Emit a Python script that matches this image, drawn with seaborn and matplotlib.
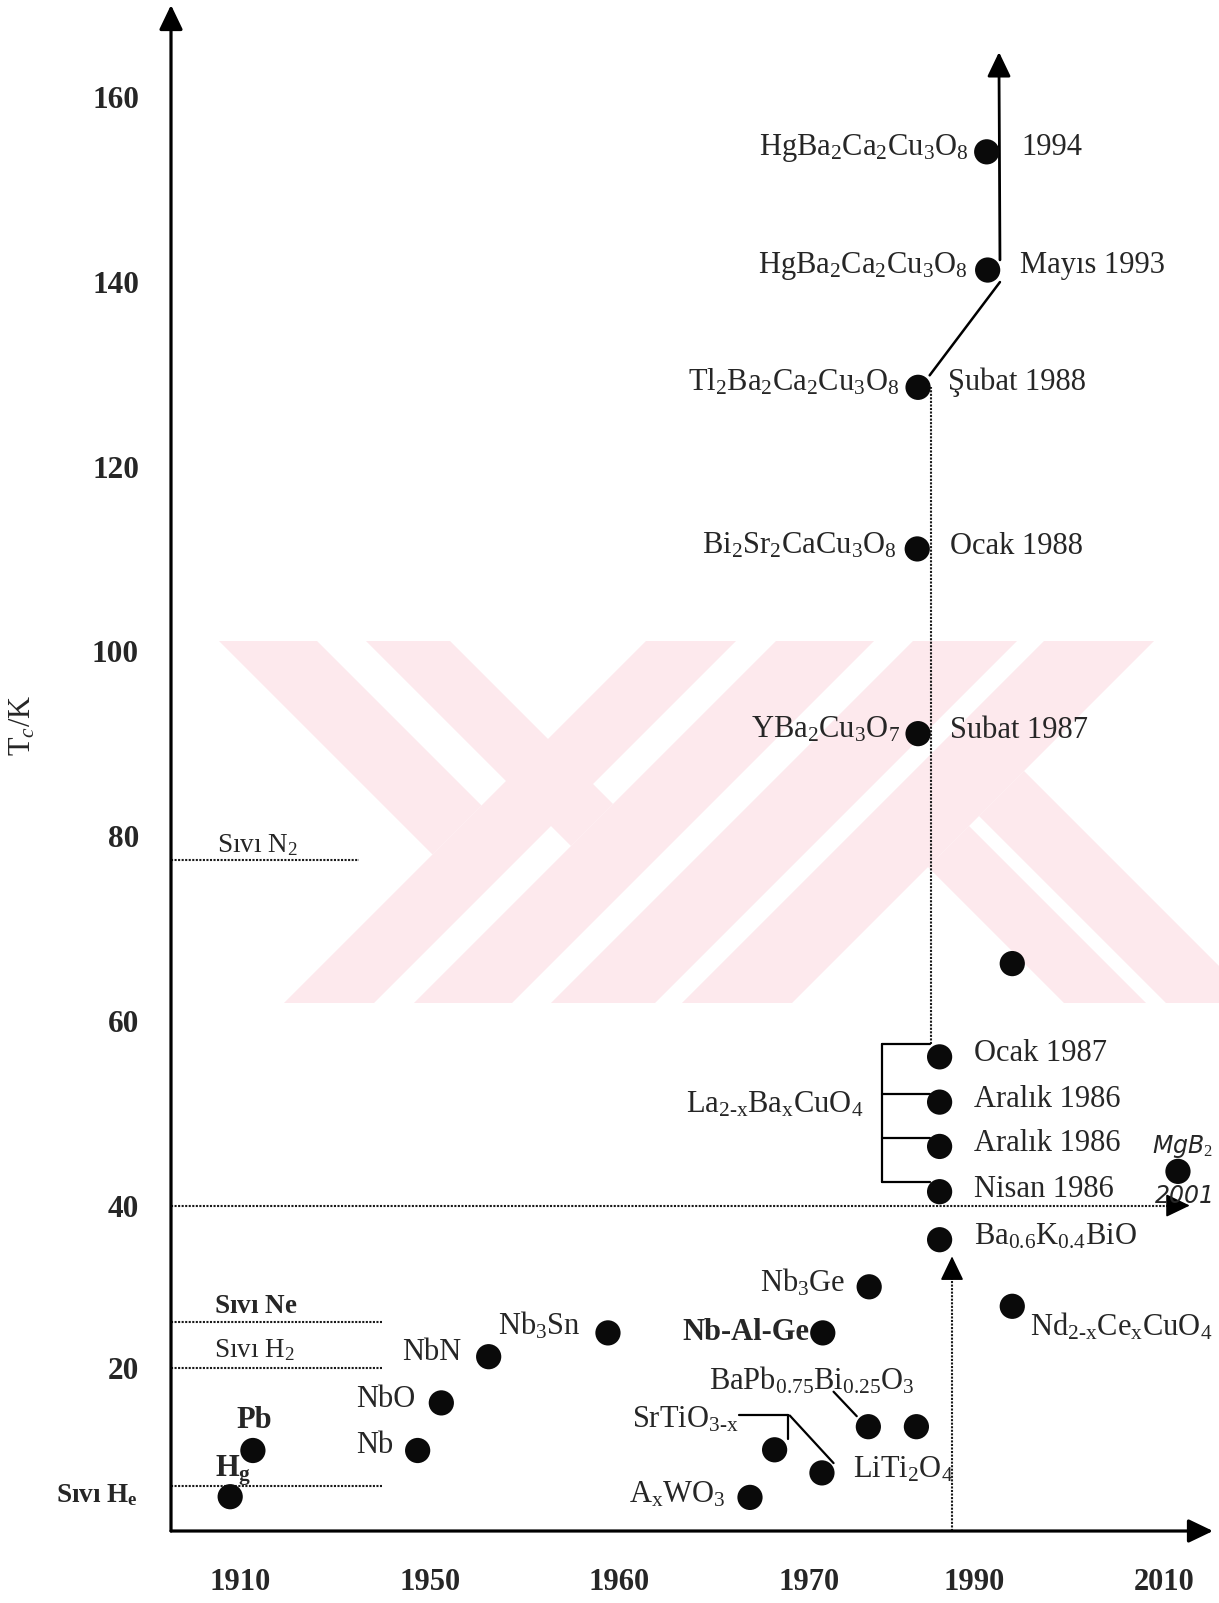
import numpy as np
import pandas as pd
import matplotlib
matplotlib.use("Agg")
import matplotlib.pyplot as plt
import matplotlib.transforms as mtransforms
from matplotlib.patches import Polygon
from matplotlib.ticker import FixedLocator, NullFormatter
import seaborn as sns

# ---- values ----
compounds = ["Hg", "Pb", "Nb", "NbO", "NbN", "Nb3Sn", "AxWO3", "SrTiO3-x", "LiTi2O4",
             "Nb-Al-Ge", "Nb3Ge", "BaPb0.75Bi0.25O3", "", "Ba0.6K0.4BiO",
             "La2-xBaxCuO4", "La2-xBaxCuO4", "La2-xBaxCuO4", "La2-xBaxCuO4",
             "YBa2Cu3O7", "Bi2Sr2CaCu3O8", "Tl2Ba2Ca2Cu3O8", "HgBa2Ca2Cu3O8",
             "HgBa2Ca2Cu3O8", "", "Nd2-xCexCuO4", "MgB2"]
years = [1907.8, 1912.6, 1947.4, 1950.6, 1953.1, 1959.4, 1966.9, 1968.2, 1971.6,
         1971.7, 1977.3, 1977.2, 1983.0, 1985.8,
         1985.8, 1985.8, 1985.8, 1985.8,
         1983.2, 1983.1, 1983.2, 1991.4,
         1991.3, 1994.0, 1994.0, 2011.5]
tc_k = [1.6, 8.2, 8.2, 15.0, 21.6, 25.0, 1.5, 8.3, 5.0,
        25.0, 31.2, 11.6, 11.6, 36.3,
        41.5, 46.4, 51.2, 56.1,
        91.1, 111.1, 128.6, 141.3,
        154.1, 66.2, 28.8, 43.7]
dates = ["", "", "", "", "", "", "", "", "",
         "", "", "", "", "",
         "Nisan 1986", "Aralık 1986", "Aralık 1986", "Ocak 1987",
         "Subat 1987", "Ocak 1988", "Şubat 1988", "Mayıs 1993",
         "1994", "", "", ""]

liquids = ["Sıvı N$_2$", r"Sıvı $\mathbf{Ne}$", "Sıvı H$_2$", r"Sıvı H$_\mathbf{e}$"]
liquid_k = [77.4, 26.6, 20.0, 3.1]
liquid_end = [1935.0, 1939.8, 1939.8, 1939.8]

x_ticks = [1910, 1950, 1960, 1970, 1990, 2010]
y_major = [20, 40, 60, 80, 100, 120, 140, 160]
y_minor = [30, 50, 70, 90, 110, 130, 150]

# the scanned axes are not evenly drawn: (value, drawn slot) knots
x_slots = [0, 1, 2, 3, 3.875, 4.875]
y_knots = [20, 30, 160]
y_slots = [0, 0.758, 13.758]

df = pd.DataFrame({"compound": compounds, "year": years, "tc": tc_k, "date": dates})


def piecewise(xk, yk):
    xk = np.asarray(xk, float)
    yk = np.asarray(yk, float)
    s0 = (yk[1] - yk[0]) / (xk[1] - xk[0])
    s1 = (yk[-1] - yk[-2]) / (xk[-1] - xk[-2])

    def f(v):
        v = np.asarray(v, float)
        out = np.interp(v, xk, yk)
        out = np.where(v < xk[0], yk[0] + (v - xk[0]) * s0, out)
        out = np.where(v > xk[-1], yk[-1] + (v - xk[-1]) * s1, out)
        return out
    return f


sns.set_style("white")
plt.rcParams["font.family"] = ["Liberation Serif", "DejaVu Serif"]
plt.rcParams["mathtext.fontset"] = "custom"
plt.rcParams["mathtext.rm"] = "Liberation Serif"
plt.rcParams["mathtext.it"] = "Liberation Serif:italic"
plt.rcParams["mathtext.bf"] = "Liberation Serif:bold"

W, H = 1219, 1603
fig = plt.figure(figsize=(W / 100, H / 100), dpi=100)
fig.patch.set_facecolor("white")
ax = fig.add_axes([171 / W, 1 - 1531 / H, (1213 - 171) / W, (1531 - 5) / H])
ax.patch.set_alpha(0)

# pink watermark behind the chart (figure pixel coordinates)
px = mtransforms.Affine2D().scale(1 / W, -1 / H).translate(0, 1) + fig.transFigure
wm = "#fde9ed"
top, bot = 641, 1003
hgt = bot - top


def fwd_band(a, w):
    return [(a, bot), (a + w, bot), (a + w + hgt, top), (a + hgt, top)]


def back_band(a, w, stop):
    # "\" band from the top edge down to the left edge of a "/" band starting at stop
    t1 = (stop + hgt - (a + w)) / 2
    t0 = (stop + hgt - a) / 2
    return [(a, top), (a + w, top), (a + w + t1, top + t1), (a + t0, top + t0)]


def rise_band(a, w, stop):
    # "\" band from the bottom edge up to the right edge of a "/" band ending at stop
    s1 = (a - stop) / 2
    s0 = (a + w - stop) / 2
    return [(a, bot), (a + w, bot), (a + w - s0, bot - s0), (a - s1, bot - s1)]


shapes = [fwd_band(284, 90), fwd_band(414, 98), fwd_band(551, 104), fwd_band(682, 110),
          back_band(219, 98, 284), back_band(366, 84, 414),
          rise_band(1064, 82, 792), rise_band(1166, 90, 792)]
for pts in shapes:
    fig.add_artist(Polygon(pts, closed=True, transform=px, facecolor=wm,
                           edgecolor="none", zorder=-1))

ax.set_xscale("function", functions=(piecewise(x_ticks, x_slots), piecewise(x_slots, x_ticks)))
ax.set_yscale("function", functions=(piecewise(y_knots, y_slots), piecewise(y_slots, y_knots)))
x0, x1 = 1895.3, 2015.2
y0, y1 = -3.3, 170.0

sns.scatterplot(data=df, x="year", y="tc", ax=ax, s=330, color="#0a0a0a",
                edgecolor="none", legend=False, zorder=5)

ax.set_xlim(x0, x1)
ax.set_ylim(y0, y1)
ax.xaxis.set_major_locator(FixedLocator(x_ticks))
ax.set_xticklabels([str(t) for t in x_ticks])
ax.yaxis.set_major_locator(FixedLocator(y_major))
ax.yaxis.set_minor_locator(FixedLocator(y_minor))
ax.yaxis.set_minor_formatter(NullFormatter())
ax.set_yticklabels([str(t) for t in y_major])
ax.tick_params(axis="y", which="both", direction="out", length=18, width=1.8,
               labelsize=22.5, pad=5, color="k")
ax.tick_params(axis="x", which="major", direction="out", length=17, width=1.8,
               labelsize=22, pad=10, color="k")
for lab in ax.get_xticklabels() + ax.get_yticklabels():
    lab.set_fontweight("bold")
for sp in ax.spines.values():
    sp.set_visible(False)
ax.set_xlabel("")
ax.set_ylabel("T$_c$/K", fontsize=22)
ax.yaxis.set_label_coords(-0.128, 0.528)

head = dict(arrowstyle="-|>,head_length=0.75,head_width=0.36", color="k",
            shrinkA=0, shrinkB=0, mutation_scale=20)
ax.annotate("", xy=(0, 1), xytext=(0, 0), xycoords="axes fraction",
            arrowprops=dict(lw=2.3, **head), annotation_clip=False)
ax.annotate("", xy=(1, 0), xytext=(0, 0), xycoords="axes fraction",
            arrowprops=dict(lw=2.3, **head), annotation_clip=False)

dot = (0, (1, 0.7))
lc = "#1a1a1a"

# liquid coolant levels
liq_off = [(46, 8, "left"), (43, 9, "left"), (43, 11, "left"), (-33, -16, "right")]
for name, k, xe, (dx, dy, ha) in zip(liquids, liquid_k, liquid_end, liq_off):
    ax.plot([x0, xe], [k, k], ls=dot, lw=1.5, color=lc, zorder=2)
    ax.annotate(name, xy=(x0, k), xytext=(dx, dy), textcoords="offset pixels",
                ha=ha, va="baseline", fontsize=19.5, annotation_clip=False,
                fontweight="bold" if "Ne" in name or "H$_\\mathbf" in name else "normal")

# 40 K line with arrow head
ax.plot([x0, 2012.0], [40, 40], ls=dot, lw=1.5, color=lc, zorder=2)
ax.annotate("", xy=(2012.75, 40), xytext=(-22, 0), textcoords="offset pixels",
            arrowprops=dict(lw=1.2, **head))

# vertical guides
ax.plot([1987.3, 1987.3], [y0, 33.0], ls=dot, lw=1.5, color=lc, zorder=2)
ax.annotate("", xy=(1987.3, 34.5), xytext=(0, -22), textcoords="offset pixels",
            arrowprops=dict(lw=1.2, **head))
ax.plot([1984.8, 1984.8], [57.5, 128.6], ls=dot, lw=1.5, color=lc, zorder=2)

# bracket for La2-xBaxCuO4
ax.plot([1978.9, 1978.9], [42.5, 57.5], color="k", lw=1.6)
for k in [57.5, 52.1, 47.3, 42.5]:
    ax.plot([1978.9, 1984.7], [k, k], color="k", lw=1.6)

# solid path to the top arrow
ax.plot([1984.6, 1992.7], [129.9, 140.0], color="k", lw=1.8)
ax.plot([1992.7, 1992.6], [142.4, 163.0], color="k", lw=2.0)
ax.annotate("", xy=(1992.6, 164.9), xytext=(0, -22), textcoords="offset pixels",
            arrowprops=dict(lw=2.0, **head))

# small leader lines
ax.plot([1966.3, 1968.9], [13.2, 13.2], color="k", lw=1.6)
ax.plot([1968.9, 1968.9], [13.2, 9.8], color="k", lw=1.6)
ax.plot([1969.0, 1973.0], [13.2, 6.4], color="k", lw=1.6)
ax.plot([1973.0, 1975.8], [16.6, 13.1], color="k", lw=1.6)

# compound labels: (row, text, dx, dy, ha, bold)
formula = [
    (0, r"H$_\mathbf{g}$", -15, 20, "left", True),
    (1, "Pb", 1, 22, "center", True),
    (2, "Nb", -24, -3, "right", False),
    (3, "NbO", -26, -4, "right", False),
    (4, "NbN", -27, -3, "right", False),
    (5, "Nb$_3$Sn", -27, -2, "right", False),
    (6, r"A$_\mathrm{x}$WO$_3$", -24, -5, "right", False),
    (7, r"SrTiO$_{\text{3-x}}$", -36, 22, "right", False),
    (8, "LiTi$_2$O$_4$", 31, -5, "left", False),
    (9, "Nb-Al-Ge", -13, -7, "right", True),
    (10, "Nb$_3$Ge", -24, -5, "right", False),
    (11, r"BaPb$_{\mathit{0.75}}$Bi$_{\mathit{0.25}}$O$_3$", -56, 37, "center", False),
    (13, r"Ba$_{0.6}$K$_{0.4}$BiO", 34, -5, "left", False),
    (16, r"La$_{\text{2-x}}$Ba$_\mathrm{x}$CuO$_4$", -76, -10, "right", False),
    (18, "YBa$_2$Cu$_3$O$_7$", -18, -4, "right", False),
    (19, "Bi$_2$Sr$_2$CaCu$_3$O$_8$", -21, -5, "right", False),
    (20, "Tl$_2$Ba$_2$Ca$_2$Cu$_3$O$_8$", -19, -3, "right", False),
    (21, "HgBa$_2$Ca$_2$Cu$_3$O$_8$", -20, -3, "right", False),
    (22, "HgBa$_2$Ca$_2$Cu$_3$O$_8$", -18, -3, "right", False),
    (24, r"Nd$_{\text{2-x}}$Ce$_\mathrm{x}$CuO$_4$", 18, -29, "left", False),
]
for i, txt, dx, dy, ha, bold in formula:
    ax.annotate(txt, xy=(df.year[i], df.tc[i]), xytext=(dx, dy), textcoords="offset pixels",
                ha=ha, va="baseline", fontsize=22, annotation_clip=False,
                fontweight="bold" if bold else "normal")

date_off = {14: (34, -5), 15: (34, -5), 16: (34, -5), 17: (34, -4), 18: (32, -4),
            19: (33, -5), 20: (30, -3), 21: (32, -3), 22: (35, -3)}
for i, (dx, dy) in date_off.items():
    ax.annotate(df.date[i], xy=(df.year[i], df.tc[i]), xytext=(dx, dy),
                textcoords="offset pixels", ha="left", va="baseline", fontsize=22)

# hand-written note for MgB2
ax.annotate("MgB$_2$", xy=(df.year[25], df.tc[25]), xytext=(5, 18), textcoords="offset pixels",
            ha="center", va="baseline", fontsize=17, family="DejaVu Sans",
            fontstyle="italic", annotation_clip=False)
ax.annotate("2001", xy=(df.year[25], df.tc[25]), xytext=(7, -32), textcoords="offset pixels",
            ha="center", va="baseline", fontsize=17, family="DejaVu Sans",
            fontstyle="italic", annotation_clip=False)

fig.savefig("out.png", dpi=100)
